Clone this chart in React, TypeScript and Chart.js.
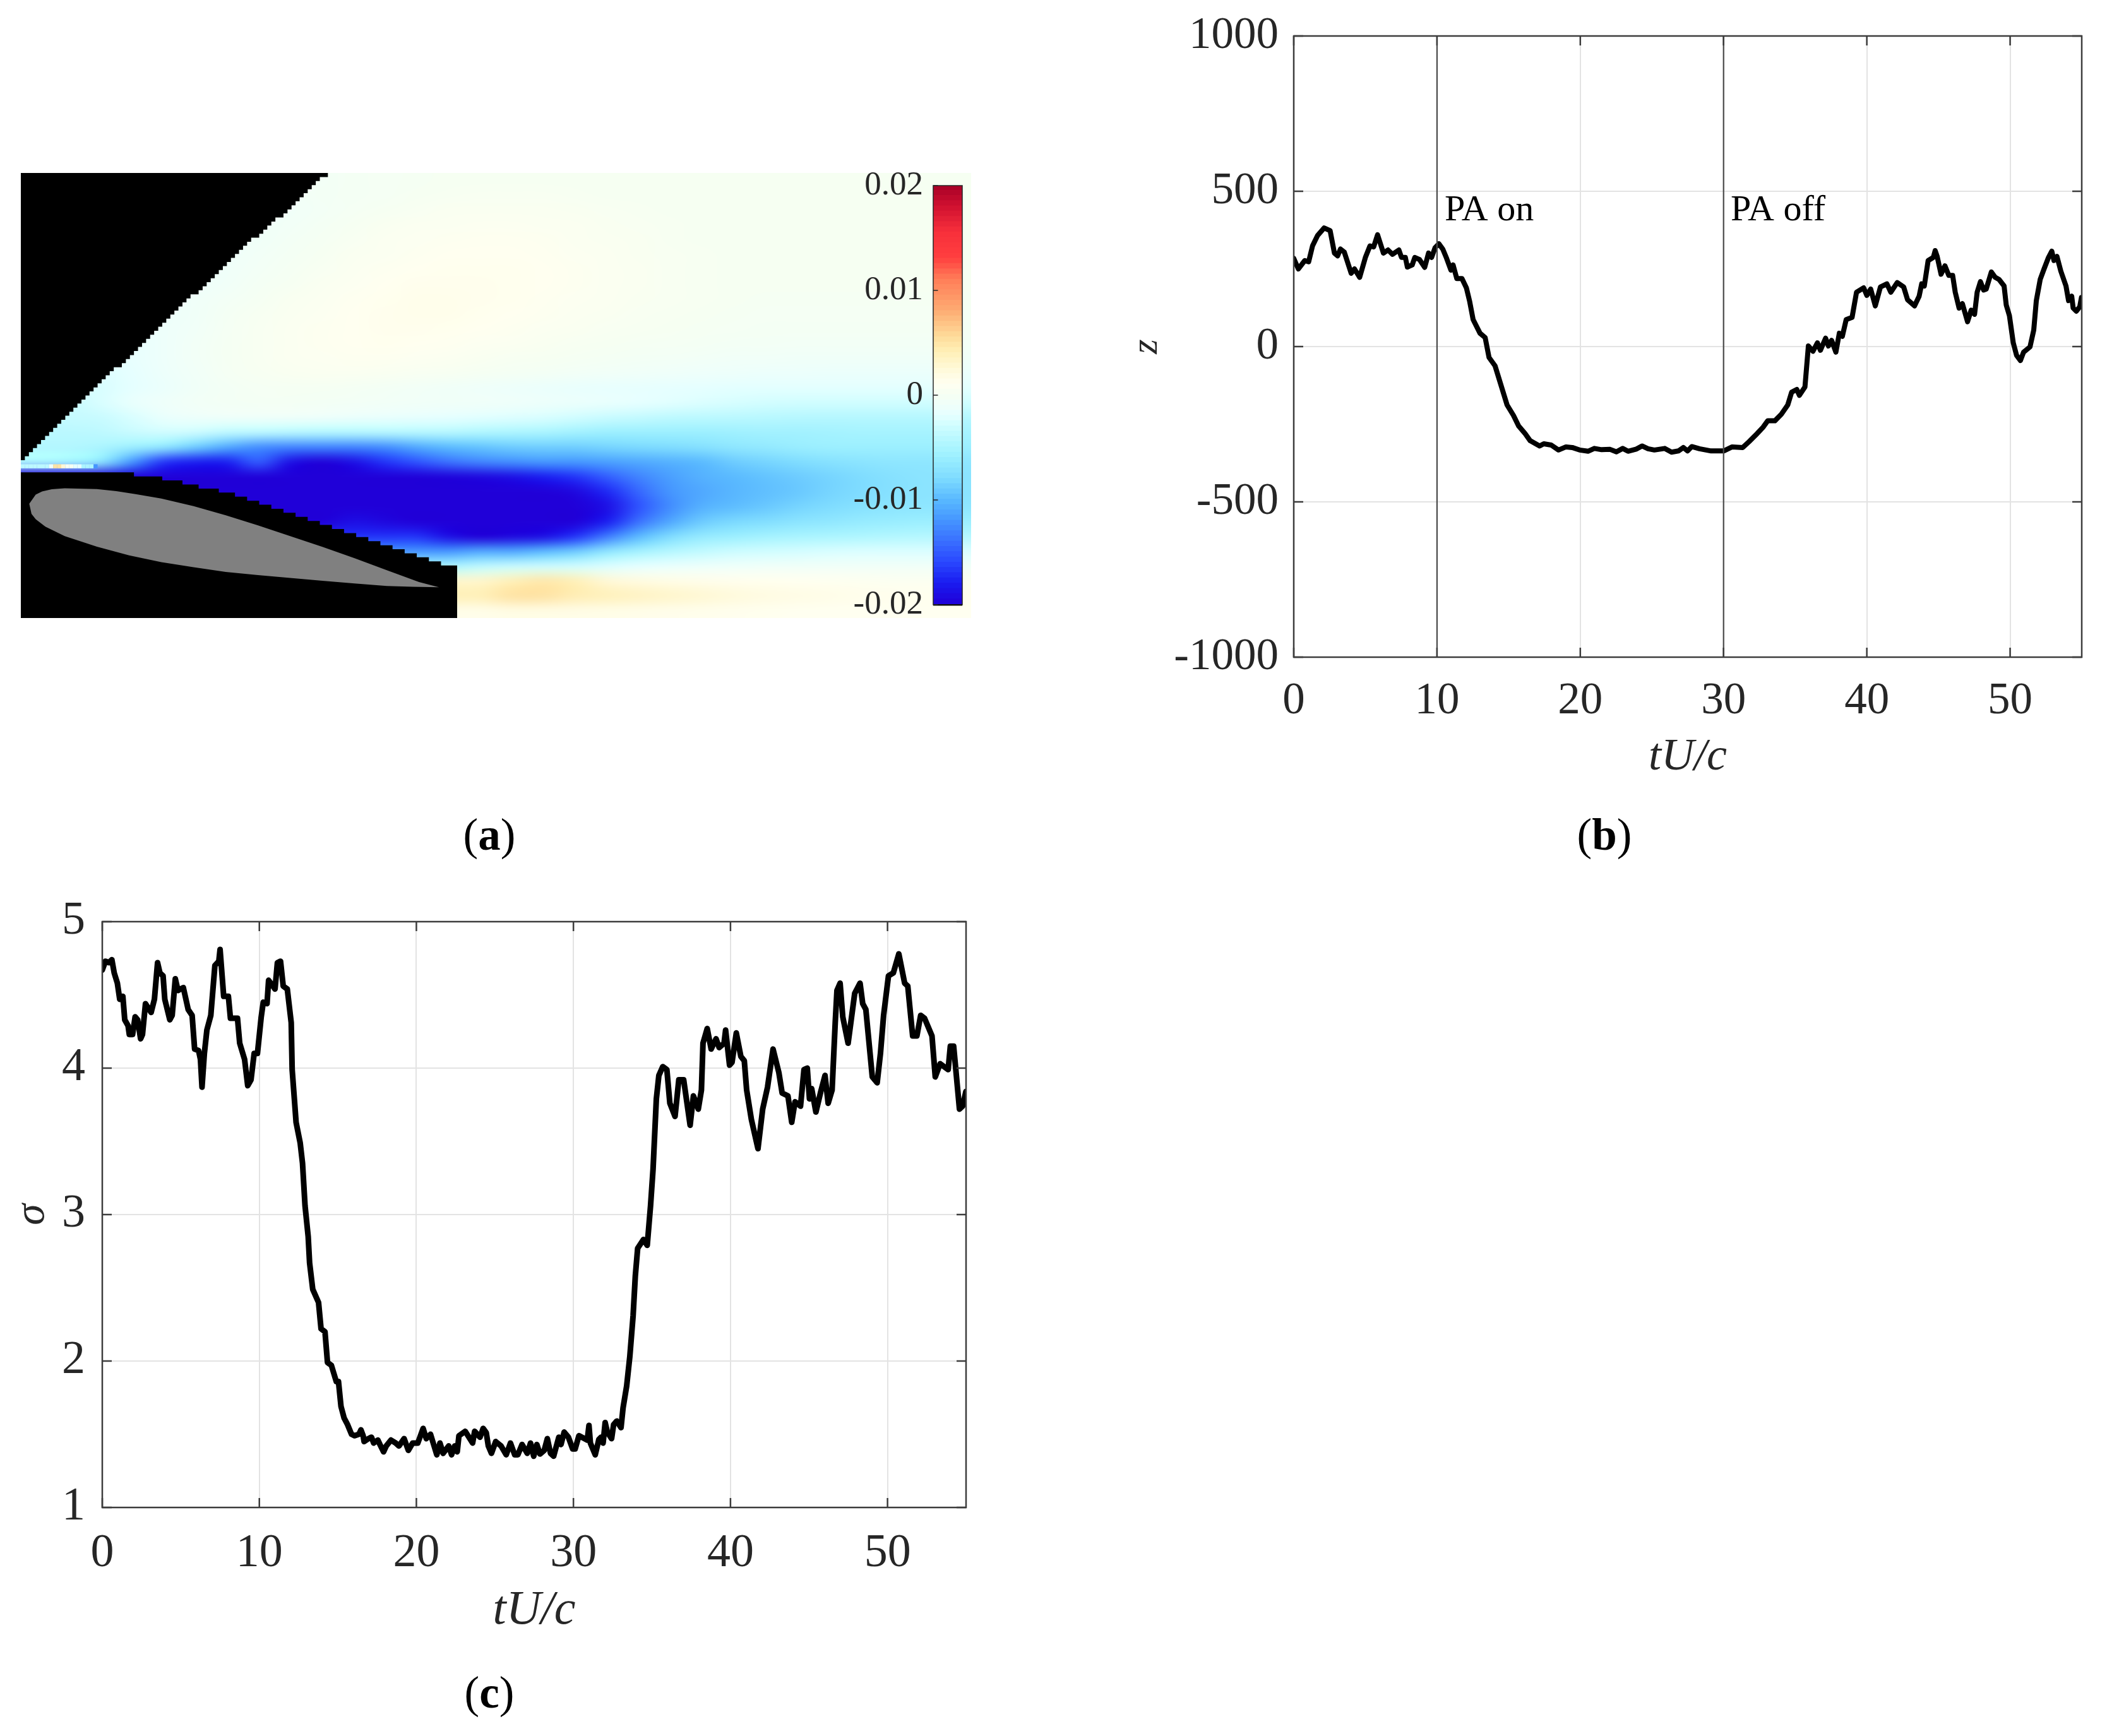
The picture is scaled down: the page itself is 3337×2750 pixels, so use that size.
import React, { useEffect, useRef } from "react";
import { Chart, registerables } from "chart.js";

Chart.register(...registerables);

const SERIF = "'Liberation Serif', serif";
const TICK_COLOR = "#262626";
const GRID_COLOR = "#e3e3e3";
const BOX_COLOR = "#3c3c3c";

// ---------- panel (b) ----------
const zTime = [0,.32,.77,1.04,1.31,1.67,2.12,2.54,2.84,3.06,3.26,3.53,4.01,4.24,4.6,5,5.32,5.58,5.85,6.26,6.58,6.89,7.34,7.52,7.79,7.93,8.27,8.45,8.78,9.14,9.41,9.62,9.86,10.13,10.4,10.67,10.97,11.12,11.38,11.74,12.05,12.28,12.52,13,13.36,13.63,14.05,14.89,15.34,15.7,16.13,16.5,17.16,17.45,17.97,18.48,19,19.44,19.95,20.54,20.98,21.49,22.08,22.52,22.96,23.33,23.92,24.31,24.73,25.17,25.9,26.37,26.86,27.19,27.49,27.78,28.32,29.13,30.01,30.6,31.34,31.78,32.22,32.77,33.08,33.58,34.03,34.48,34.75,35.11,35.29,35.68,35.92,36.24,36.55,36.76,37.12,37.32,37.54,37.84,38.08,38.29,38.56,38.97,39.28,39.78,40,40.27,40.59,40.95,41.4,41.67,42.12,42.57,42.84,43.33,43.65,43.83,44.01,44.28,44.64,44.77,44.91,45.18,45.45,45.72,45.99,46.17,46.44,46.67,47.03,47.28,47.52,47.7,47.93,48.15,48.33,48.69,48.96,49.23,49.58,49.73,49.95,50.22,50.45,50.72,50.94,51.39,51.65,51.83,52.1,52.37,52.68,52.91,53.06,53.27,53.54,53.9,54.08,54.3,54.4,54.62,54.86,54.98];
const zValues = [284,250,277,273,324,358,382,373,301,292,314,304,236,250,223,287,324,321,360,301,311,297,311,287,287,256,263,287,280,255,301,287,318,331,314,284,246,263,219,219,189,145,87,43,29,-35,-62,-188,-222,-256,-279,-303,-320,-313,-317,-333,-323,-325,-333,-337,-328,-332,-331,-339,-328,-337,-330,-320,-329,-333,-328,-340,-336,-325,-336,-322,-329,-336,-336,-323,-325,-306,-286,-259,-239,-239,-218,-188,-147,-138,-157,-130,2,-15,12,-12,27,2,20,-18,43,33,87,94,175,189,165,185,131,192,202,175,206,192,151,131,162,202,195,277,287,309,290,233,260,229,229,175,124,138,80,117,104,175,209,182,185,240,223,216,195,134,100,12,-28,-45,-18,-1,53,148,216,250,287,307,277,290,243,195,148,162,124,114,128,158];
const paLineTimes = [10, 30];
const paLabels = ["PA on", "PA off"];
const paLabelTimes = [10.53, 30.5];
const paLabelZ = [406, 406];
const zTicks = [-1000, -500, 0, 500, 1000];
const timeTicks = [0, 10, 20, 30, 40, 50];

// ---------- panel (c) ----------
const sigmaTime = [0,.2,.41,.61,.76,.96,1.11,1.31,1.43,1.64,1.72,1.93,2.09,2.25,2.44,2.56,2.75,3.11,3.32,3.52,3.67,3.87,3.98,4.3,4.45,4.65,4.82,5.16,5.47,5.72,5.88,6.13,6.25,6.35,6.5,6.66,6.91,7.17,7.42,7.5,7.73,8.03,8.16,8.61,8.75,9.06,9.26,9.47,9.67,9.88,10.12,10.25,10.49,10.59,11,11.15,11.35,11.52,11.78,12.03,12.09,12.23,12.34,12.6,12.75,12.91,13.11,13.2,13.4,13.77,13.93,14.18,14.34,14.59,14.9,15.04,15.2,15.4,15.6,15.87,16.07,16.34,16.47,16.61,16.67,16.94,17.14,17.28,17.55,17.68,17.91,18.08,18.38,18.68,18.89,19.22,19.49,19.76,20.09,20.43,20.63,20.9,21.3,21.5,21.7,22.06,22.24,22.44,22.6,22.71,23.11,23.58,23.71,24.05,24.25,24.45,24.58,24.78,25.05,25.39,25.72,25.99,26.26,26.46,26.73,27.06,27.27,27.47,27.67,27.87,28.14,28.34,28.54,28.74,29.07,29.21,29.41,29.68,29.95,30.11,30.35,30.88,30.99,31.08,31.39,31.62,31.76,31.89,32.02,32.16,32.43,32.56,32.76,33.03,33.16,33.39,33.59,33.8,33.94,34.09,34.46,34.7,34.91,35.07,35.28,35.44,35.69,35.95,36.14,36.47,36.71,37.02,37.43,37.64,37.95,38.15,38.25,38.52,38.77,39.08,39.28,39.59,39.69,39.94,40.1,40.37,40.66,40.88,41.03,41.33,41.75,42.05,42.36,42.71,43.08,43.29,43.66,43.9,44.11,44.46,44.68,44.89,45.03,45.17,45.44,45.75,46.02,46.22,46.47,46.67,46.78,46.98,47.15,47.49,47.91,48.25,48.42,48.62,49.03,49.34,49.55,49.75,50.06,50.37,50.72,51.09,51.29,51.6,51.87,52.11,52.36,52.83,53.04,53.35,53.86,54,54.21,54.58,54.78,54.99];
const sigmaValues = [4.67,4.73,4.72,4.74,4.65,4.58,4.47,4.49,4.33,4.29,4.23,4.23,4.35,4.33,4.2,4.23,4.44,4.38,4.47,4.72,4.65,4.63,4.47,4.33,4.36,4.61,4.53,4.55,4.4,4.36,4.13,4.12,4.06,3.87,4.1,4.26,4.36,4.7,4.73,4.81,4.49,4.49,4.34,4.34,4.17,4.06,3.88,3.92,4.1,4.1,4.35,4.45,4.44,4.6,4.54,4.72,4.73,4.56,4.54,4.31,3.99,3.79,3.63,3.49,3.35,3.06,2.85,2.67,2.49,2.4,2.22,2.2,1.99,1.97,1.86,1.86,1.69,1.61,1.57,1.5,1.49,1.5,1.53,1.49,1.45,1.47,1.48,1.44,1.46,1.43,1.38,1.42,1.46,1.44,1.42,1.47,1.39,1.44,1.44,1.54,1.47,1.5,1.36,1.44,1.37,1.42,1.36,1.42,1.38,1.49,1.52,1.44,1.52,1.48,1.54,1.51,1.42,1.37,1.45,1.42,1.36,1.44,1.36,1.36,1.43,1.37,1.44,1.35,1.43,1.365,1.39,1.47,1.37,1.35,1.48,1.43,1.515,1.48,1.4,1.4,1.49,1.46,1.56,1.44,1.36,1.465,1.48,1.44,1.58,1.515,1.47,1.566,1.59,1.545,1.68,1.83,2.03,2.31,2.58,2.77,2.83,2.79,3.06,3.31,3.79,3.95,4.01,3.99,3.76,3.67,3.92,3.92,3.61,3.81,3.72,3.85,4.17,4.27,4.13,4.2,4.14,4.17,4.26,4.02,4.04,4.24,4.08,4.05,3.85,3.65,3.45,3.72,3.87,4.13,3.97,3.83,3.81,3.63,3.77,3.74,3.99,4,3.79,3.86,3.7,3.84,3.95,3.76,3.85,4.31,4.53,4.58,4.35,4.17,4.51,4.58,4.44,4.4,3.94,3.9,4.1,4.36,4.63,4.65,4.78,4.58,4.56,4.22,4.22,4.36,4.34,4.22,3.94,4.03,3.99,4.15,4.15,3.72,3.74,3.84];
const sigmaTicks = [1, 2, 3, 4, 5];

// ---------- panel (a): field, in units of 0.001 on a 30 x 30 grid ----------
const heatRows = [
[-.5,-.5,-.5,-.5,-.5,-.5,-.5,-.5,-.5,-.5,-.3,-.2,-.1,0,0,0,0,0,0,0,0,0,0,0,0,0,0,0,0,0],
[-.6,-.6,-.6,-.6,-.6,-.6,-.6,-.6,-.6,-.4,-.3,-.2,0,.1,.2,.2,.2,.1,0,0,0,0,0,0,0,0,0,0,0,0],
[-.7,-.7,-.7,-.7,-.7,-.7,-.7,-.7,-.7,-.5,-.2,0,.2,.4,.4,.4,.4,.3,.2,.1,0,0,0,0,0,0,0,0,0,0],
[-.8,-.8,-.8,-.8,-.8,-.8,-.8,-.8,-.6,-.3,0,.3,.5,.6,.7,.7,.6,.5,.3,.2,.1,0,0,0,0,0,0,0,0,0],
[-1,-1,-1,-1,-1,-1,-1,-.8,-.4,-.1,.2,.5,.7,.8,.9,.9,.8,.6,.4,.3,.1,0,0,0,0,0,0,0,0,0],
[-1.1,-1.1,-1.1,-1.1,-1.1,-1.1,-1,-.6,-.3,0,.4,.6,.8,1,1,1,.9,.7,.5,.3,.2,.1,0,0,0,0,0,0,0,0],
[-1.2,-1.2,-1.2,-1.2,-1.2,-1.2,-.9,-.5,-.1,.2,.5,.8,1,1.1,1.1,1.1,1,.8,.6,.4,.2,.1,0,0,0,0,0,0,0,0],
[-1.3,-1.3,-1.3,-1.3,-1.3,-1.1,-.7,-.3,0,.4,.7,1,1.2,1.2,1.2,1.1,1,.8,.6,.4,.2,.1,0,0,0,0,0,0,0,0],
[-1.3,-1.3,-1.3,-1.3,-1.3,-.9,-.5,-.1,.3,.6,.9,1.1,1.3,1.3,1.2,1.1,.9,.7,.5,.3,.2,.1,0,-.1,-.1,-.1,-.1,-.1,-.1,-.1],
[-1.6,-1.6,-1.6,-1.6,-1.2,-.8,-.3,.1,.4,.7,1,1.2,1.3,1.3,1.1,1,.8,.6,.4,.2,.1,0,-.1,-.2,-.2,-.2,-.2,-.2,-.2,-.2],
[-1.6,-1.6,-1.6,-1.6,-1.1,-.7,-.2,.2,.5,.8,1,1.2,1.2,1.1,1,.8,.6,.4,.2,.1,0,-.1,-.2,-.3,-.3,-.3,-.3,-.3,-.3,-.3],
[-1.7,-1.7,-1.7,-1.7,-1.1,-.6,-.1,.2,.5,.8,1,1.1,1,.9,.7,.5,.3,.1,0,-.1,-.2,-.3,-.4,-.4,-.5,-.5,-.5,-.5,-.5,-.5],
[-2.2,-2.2,-2.2,-1.7,-1.1,-.6,-.1,.2,.5,.7,.8,.8,.7,.5,.3,.1,0,-.1,-.3,-.4,-.5,-.6,-.7,-.7,-.8,-.8,-.8,-.8,-.8,-.8],
[-2.4,-2.4,-2.4,-1.9,-1.2,-.7,-.2,.1,.3,.4,.4,.3,.2,.1,-.1,-.3,-.4,-.6,-.7,-.9,-1,-1.1,-1.2,-1.3,-1.3,-1.4,-1.4,-1.4,-1.4,-1.4],
[-2.8,-2.8,-2.6,-2,-1.4,-.8,-.4,-.2,-.1,-.1,-.3,-.4,-.6,-.8,-1,-1.2,-1.4,-1.6,-1.7,-1.8,-1.9,-2,-2.1,-2.1,-2.1,-2.1,-2.1,-2.1,-2.1,-2.1],
[-3.4,-3.4,-2.6,-1.6,-1,-.6,-.4,-.3,-.3,-.4,-.5,-.6,-.7,-.8,-.9,-1,-1.2,-1.4,-1.6,-1.9,-2.2,-2.5,-2.7,-2.9,-3,-3,-3,-3,-3,-3],
[-4,-3.6,-3.4,-2.6,-1.6,-1.2,-1,-1,-1,-1.1,-1.4,-1.6,-1.8,-2,-2.2,-2.4,-2.6,-3,-3.4,-3.7,-4,-4.1,-4.2,-4.3,-4.4,-4.5,-4.5,-4.5,-4.5,-4.5],
[-4.2,-4.2,-4,-3.4,-3,-3.2,-4,-4.2,-4.4,-4.6,-4.6,-4.5,-4.5,-4.5,-4.8,-5,-5.2,-5.6,-6,-6,-6,-6,-5.8,-5.6,-5.6,-5.5,-5.4,-5.4,-5.4,-5.4],
[-4.6,-4.6,-5,-6,-7,-9,-11,-12.5,-13,-13,-13,-12.5,-11,-10,-9.5,-9,-8.8,-8.8,-8.5,-8.2,-8,-7.6,-7,-6.6,-6.2,-6,-6,-6,-6,-6],
[-5,-5.5,-7,-12,-17,-18,-18,-15,-19,-20,-19,-17,-15.5,-14,-13,-12.5,-12,-12,-11.5,-11,-10.5,-10,-9,-8.5,-8,-7.5,-7.2,-7,-7,-7],
[-20,-20,-20,-20,-20,-20,-20,-20,-20,-20,-20,-20,-20,-19.8,-19.5,-19,-18,-17,-15,-13,-11.5,-10.5,-10,-9.5,-9,-8.5,-8,-7.5,-7.2,-7.2],
[-20,-20,-20,-20,-20,-20,-20,-20,-20,-20,-20,-20,-20,-20,-20,-20,-20,-19.5,-17.5,-14.5,-12,-11,-10.2,-9.7,-9.2,-8.5,-8,-7.5,-7.2,-7.2],
[-20,-20,-20,-20,-20,-20,-20,-20,-20,-20,-20,-20,-20,-20,-20,-20,-20,-20,-19,-15.5,-12.5,-10.5,-9.8,-9.2,-8.5,-8,-7.5,-7.1,-7,-7],
[-20,-20,-20,-20,-20,-20,-20,-20,-20,-20,-19,-19.5,-20,-20,-20,-20,-20,-20,-18,-14,-11,-9,-8.2,-7.8,-7.2,-6.8,-6.4,-6.2,-6,-6],
[-17,-17,-17,-17,-17,-17,-17,-17,-17,-17,-17,-17,-17,-19,-20,-19.5,-19,-17,-13.5,-10,-8,-6.5,-6,-5.5,-5.2,-5,-4.8,-4.6,-4.5,-4.5],
[-12,-12,-12,-12,-12,-12,-12,-12,-12,-12,-12,-12,-12,-12,-11,-11,-10,-9,-7,-5.5,-4.5,-3.8,-3.2,-3,-2.8,-2.6,-2.5,-2.5,-2.5,-2.5],
[-5,-5,-5,-5,-5,-5,-5,-5,-5,-5,-5,-5,-5,-5,-4,-3.5,-3.2,-3,-2.5,-2,-1.5,-1.2,-1,-.9,-.8,-.7,-.7,-.7,-.7,-.7],
[3,3,3,3,3,3,3,3,3,3,3,3,3,3,3,4,4.6,4,2.5,2,1.6,1.4,1.2,1.1,1,.9,.8,.7,.7,.7],
[4,4,4,4,4,4,4,4,4,4,4,4,4,4,4,5,5,4.2,3.8,3.4,3,2.6,2.2,1.9,1.7,1.5,1.3,1.2,1.1,1.1],
[1.5,1.5,1.5,1.5,1.5,1.5,1.5,1.5,1.5,1.5,1.5,1.5,1.5,1.5,1.5,1.8,1.8,1.7,1.6,1.5,1.4,1.3,1.2,1.1,1,1,1,1,1,1],
];
// thin row of cells right above the lower mask, near the leading edge (cell row 72)
const leadRowValues = [-4,-4,-4,-4,-4,-4,-4,-1,5,5,2.5,0,0,-2,-2,-5,-5,-5,-12];
const leadRowIndex = 72;

const cellCols = 235.2;
const cellRows = 110;
// upper mask: one row count per cell column
const upperMaskRows = [72,71,70,69,68,67,66,65,64,63,62,61,60,59,58,57,56,55,54,53,52,51,50,49,48,48,47,46,45,44,43,42,41,40,39,38,37,36,35,34,33,32,31,30,30,29,28,27,26,25,24,23,22,21,20,19,18,17,16,16,15,14,13,12,11,11,10,9,8,7,6,5,4,3,2,1,1,0];
// lower mask: staircase
const lowerMaskCols = [0,28,35,40,44,49,53,56,59,62,65,68,71,74,77,80,83,86,89,92,95,98,101,104,107,108];
const lowerMaskRows = [73,74,75,76,77,78,79,80,81,82,83,84,85,86,87,88,89,90,91,92,93,94,95,96,97,97];
// aerofoil outline
const foilCols = [2.09,3.68,5.27,7.66,10.85,18.83,23.61,28.39,34.77,42.74,50.71,58.69,66.66,74.63,82.6,90.57,98.55,103.49,96.95,90.57,82.6,74.63,66.66,58.69,50.71,42.74,34.77,26.8,18.83,10.85,6.07,3.68,2.64];
const foilRows = [81.77,79.48,78.7,78.18,77.92,78.13,78.65,79.38,80.47,82.35,84.59,87.09,89.74,92.4,95.21,98.18,101.1,102.4,102.29,102.09,101.46,100.78,100.1,99.38,98.6,97.45,96.2,94.53,92.35,89.74,87.4,85.57,84.27];

// colormap stops (units of 0.001)
const cmapValues = [-20,-18,-16,-14,-12,-10,-8,-6,-5,-4,-3,-2,-1,0,1,2,4,5.5,8,11,13,15.5,18,20];
const cmapColors = ["#2000d8","#1a1cf0","#2a48ff","#3a70ff","#4596ff","#5abaff","#7fdcff","#9cefff","#acf5ff","#bdf9ff","#d0fdff","#e5ffff","#effffa","#f6fff2","#fffff0","#fffbe0","#fff0b8","#fedc9a","#fdab72","#ff7d58","#ff3f3f","#f72f3b","#cf1030","#a50026"];
const colorbarTicks = [-0.02, -0.01, 0, 0.01, 0.02];

const captions = [
  { letter: "a", x: 775, y: 1322 },
  { letter: "b", x: 2541, y: 1322 },
  { letter: "c", x: 775, y: 2681 },
];

function hexRgb(h: string) {
  return [parseInt(h.slice(1, 3), 16), parseInt(h.slice(3, 5), 16), parseInt(h.slice(5, 7), 16)];
}
function colorOf(v: number) {
  const n = cmapValues.length;
  if (v <= cmapValues[0]) return hexRgb(cmapColors[0]);
  if (v >= cmapValues[n - 1]) return hexRgb(cmapColors[n - 1]);
  for (let i = 1; i < n; i++) {
    if (v <= cmapValues[i]) {
      const f = (v - cmapValues[i - 1]) / (cmapValues[i] - cmapValues[i - 1]);
      const a = hexRgb(cmapColors[i - 1]);
      const b = hexRgb(cmapColors[i]);
      return [0, 1, 2].map((k) => Math.round(a[k] + (b[k] - a[k]) * f));
    }
  }
  return [255, 255, 255];
}
const css = (c: number[]) => `rgb(${c[0]},${c[1]},${c[2]})`;

// heat field: cells placed through the scales and displayed with image smoothing
const heatPlugin = {
  id: "heat",
  beforeDatasetsDraw(chart: any) {
    const { ctx, scales } = chart;
    const rows = heatRows.length;
    const cols = heatRows[0].length;
    const off = document.createElement("canvas");
    off.width = cols;
    off.height = rows;
    const octx = off.getContext("2d")!;
    const img = octx.createImageData(cols, rows);
    heatRows.forEach((row, r) =>
      row.forEach((v, c) => {
        const rgb = colorOf(v);
        const i = (r * cols + c) * 4;
        img.data[i] = rgb[0];
        img.data[i + 1] = rgb[1];
        img.data[i + 2] = rgb[2];
        img.data[i + 3] = 255;
      })
    );
    octx.putImageData(img, 0, 0);
    const x0 = scales.x.getPixelForValue(0);
    const x1 = scales.x.getPixelForValue(cellCols);
    const y0 = scales.y.getPixelForValue(0);
    const y1 = scales.y.getPixelForValue(cellRows);
    ctx.save();
    ctx.imageSmoothingEnabled = true;
    ctx.imageSmoothingQuality = "high";
    ctx.drawImage(off, x0, y0, x1 - x0, y1 - y0);
    leadRowValues.forEach((v, c) => {
      ctx.fillStyle = css(colorOf(v));
      const a = scales.x.getPixelForValue(c);
      const b = scales.x.getPixelForValue(c + 1);
      const t = scales.y.getPixelForValue(leadRowIndex);
      const u = scales.y.getPixelForValue(leadRowIndex + 1);
      ctx.fillRect(a, t, b - a, u - t);
    });
    ctx.restore();
  },
  afterDatasetsDraw(chart: any) {
    const { ctx, scales } = chart;
    ctx.save();
    ctx.fillStyle = "#808080";
    ctx.beginPath();
    foilCols.forEach((c, i) => {
      const px = scales.x.getPixelForValue(c);
      const py = scales.y.getPixelForValue(foilRows[i]);
      if (i === 0) ctx.moveTo(px, py);
      else ctx.lineTo(px, py);
    });
    ctx.closePath();
    ctx.fill();
    ctx.restore();
  },
};

// MATLAB style box with inward ticks on all four sides
const boxPlugin = {
  id: "matlabBox",
  afterDraw(chart: any) {
    const { ctx, chartArea: a, scales } = chart;
    const len = 15;
    ctx.save();
    ctx.strokeStyle = BOX_COLOR;
    ctx.lineWidth = 2.5;
    ctx.strokeRect(a.left, a.top, a.right - a.left, a.bottom - a.top);
    ctx.beginPath();
    scales.x.ticks.forEach((t: any) => {
      const p = scales.x.getPixelForValue(t.value);
      ctx.moveTo(p, a.bottom);
      ctx.lineTo(p, a.bottom - len);
      ctx.moveTo(p, a.top);
      ctx.lineTo(p, a.top + len);
    });
    scales.y.ticks.forEach((t: any) => {
      const p = scales.y.getPixelForValue(t.value);
      ctx.moveTo(a.left, p);
      ctx.lineTo(a.left + len, p);
      ctx.moveTo(a.right, p);
      ctx.lineTo(a.right - len, p);
    });
    ctx.stroke();
    ctx.restore();
  },
};

const paPlugin = {
  id: "paLabels",
  afterDatasetsDraw(chart: any) {
    const { ctx, scales } = chart;
    ctx.save();
    ctx.fillStyle = "#000";
    ctx.font = `58px ${SERIF}`;
    ctx.textBaseline = "alphabetic";
    ctx.textAlign = "left";
    paLabels.forEach((s, i) => {
      ctx.fillText(s, scales.x.getPixelForValue(paLabelTimes[i]), scales.y.getPixelForValue(paLabelZ[i]));
    });
    ctx.restore();
  },
};

const colorbarPlugin = {
  id: "colorbarBox",
  afterDraw(chart: any) {
    const { ctx, chartArea: a, scales } = chart;
    ctx.save();
    ctx.strokeStyle = "#262626";
    ctx.lineWidth = 1.5;
    ctx.strokeRect(a.left, a.top, a.right - a.left, a.bottom - a.top);
    ctx.fillStyle = "#111";
    ctx.fillRect(a.left, a.bottom - 1, a.right - a.left, 2.5);
    ctx.beginPath();
    scales.y.ticks.forEach((t: any) => {
      const p = scales.y.getPixelForValue(t.value);
      ctx.moveTo(a.left, p);
      ctx.lineTo(a.left + 7.5, p);
    });
    ctx.stroke();
    ctx.restore();
  },
};

function lineOptions(p: {
  yMin: number; yMax: number; yTicks: number[]; yWidth: number; xHeight: number;
  top: number; right: number; yTitle: string; yTitleSize: number; yTitlePad: number; xPad: number;
  yPad: number; tickSize: number; xTitleSize: number;
}) {
  return {
    responsive: false,
    animation: false as const,
    devicePixelRatio: 1,
    layout: { autoPadding: false, padding: { left: 0, top: p.top, right: p.right, bottom: 0 } },
    plugins: { legend: { display: false }, tooltip: { enabled: false } },
    scales: {
      x: {
        type: "linear" as const,
        min: 0,
        max: 55,
        afterBuildTicks: (s: any) => { s.ticks = timeTicks.map((value) => ({ value })); },
        afterFit: (s: any) => { s.height = p.xHeight; },
        grid: { color: GRID_COLOR, lineWidth: 2, drawTicks: false },
        border: { display: false },
        ticks: {
          color: TICK_COLOR, font: { family: SERIF, size: p.tickSize }, padding: p.xPad,
          maxRotation: 0, autoSkip: false, callback: (v: any) => String(v),
        },
        title: {
          display: true,
          text: "tU/c",
          color: TICK_COLOR,
          padding: 0,
          font: { family: SERIF, size: p.xTitleSize, style: "italic" as const },
        },
      },
      y: {
        type: "linear" as const,
        min: p.yMin,
        max: p.yMax,
        afterBuildTicks: (s: any) => { s.ticks = p.yTicks.map((value) => ({ value })); },
        afterFit: (s: any) => { s.width = p.yWidth; },
        grid: { color: GRID_COLOR, lineWidth: 2, drawTicks: false },
        border: { display: false },
        ticks: {
          color: TICK_COLOR, font: { family: SERIF, size: p.tickSize }, padding: p.yPad,
          autoSkip: false, callback: (v: any) => String(v),
        },
        title: {
          display: true,
          text: p.yTitle,
          color: TICK_COLOR,
          padding: { top: p.yTitlePad, bottom: 0 },
          font: { family: SERIF, size: p.yTitleSize, style: "italic" as const },
        },
      },
    },
  };
}

const curve = (xs: number[], ys: number[], width: number) => ({
  data: xs.map((x, i) => ({ x, y: ys[i] })),
  showLine: true,
  borderColor: "#000",
  borderWidth: width,
  borderJoinStyle: "round" as const,
  borderCapStyle: "round" as const,
  pointRadius: 0,
  tension: 0,
});

export default function App() {
  const heatRef = useRef<HTMLCanvasElement>(null);
  const barRef = useRef<HTMLCanvasElement>(null);
  const bRef = useRef<HTMLCanvasElement>(null);
  const cRef = useRef<HTMLCanvasElement>(null);

  useEffect(() => {
    document.body.style.margin = "0";
    const charts: Chart[] = [];

    const hidden = (max: number, reverse: boolean) => ({
      type: "linear" as const, display: false, min: 0, max, reverse,
    });
    charts.push(new Chart(heatRef.current!, {
      type: "scatter",
      data: {
        datasets: [
          {
            data: upperMaskRows.map((y, x) => ({ x, y })),
            showLine: true, stepped: "after", pointRadius: 0, borderWidth: 0,
            borderColor: "#000", backgroundColor: "#000", fill: { value: 0 },
          },
          {
            data: lowerMaskCols.map((x, i) => ({ x, y: lowerMaskRows[i] })),
            showLine: true, stepped: "after", pointRadius: 0, borderWidth: 0,
            borderColor: "#000", backgroundColor: "#000", fill: { value: cellRows },
          },
        ],
      },
      options: {
        responsive: false, animation: false, devicePixelRatio: 1,
        layout: { autoPadding: false, padding: 0 },
        plugins: { legend: { display: false }, tooltip: { enabled: false } },
        scales: { x: hidden(cellCols, false), y: hidden(cellRows, true) },
      },
      plugins: [heatPlugin],
    } as any));

    const levels: { lo: number; hi: number }[] = [];
    for (let v = -20; v < 20; v += 0.5) levels.push({ lo: v, hi: v + 0.5 });
    charts.push(new Chart(barRef.current!, {
      type: "bar",
      data: {
        labels: [""],
        datasets: levels.map((l) => ({
          data: [[l.lo / 1000, (l.hi + 0.08) / 1000]],
          backgroundColor: css(colorOf(l.lo + 0.25)),
          borderWidth: 0,
          barPercentage: 1,
          categoryPercentage: 1,
        })),
      },
      options: {
        responsive: false, animation: false, devicePixelRatio: 1,
        layout: { autoPadding: false, padding: { left: 0, top: 94, right: 26, bottom: 52 } },
        plugins: { legend: { display: false }, tooltip: { enabled: false } },
        scales: {
          x: { type: "category", stacked: true, display: false },
          y: {
            type: "linear", min: -0.02, max: 0.02,
            afterBuildTicks: (s: any) => { s.ticks = colorbarTicks.map((value) => ({ value })); },
            afterFit: (s: any) => { s.width = 178; },
            grid: { display: false, drawTicks: false },
            border: { display: false },
            ticks: {
              color: TICK_COLOR, padding: 16, autoSkip: false,
              font: { family: SERIF, size: 53 },
              callback: (v: any) => String(v),
            },
          },
        },
      },
      plugins: [colorbarPlugin],
    } as any));

    charts.push(new Chart(bRef.current!, {
      type: "scatter",
      data: {
        datasets: [
          ...paLineTimes.map((t) => ({
            data: [{ x: t, y: -1000 }, { x: t, y: 1000 }],
            showLine: true, borderColor: "#4a4a4a", borderWidth: 2.2, pointRadius: 0,
          })),
          curve(zTime, zValues, 8),
        ],
      },
      options: lineOptions({
        yMin: -1000, yMax: 1000, yTicks: zTicks, yWidth: 269, xHeight: 202,
        top: 97, right: 40, yTitle: "z", yTitleSize: 60, yTitlePad: 0, xPad: 28,
        yPad: 24, tickSize: 71, xTitleSize: 72,
      }),
      plugins: [paPlugin, boxPlugin],
    } as any));

    charts.push(new Chart(cRef.current!, {
      type: "scatter",
      data: { datasets: [curve(sigmaTime, sigmaValues, 9)] },
      options: lineOptions({
        yMin: 1, yMax: 5, yTicks: sigmaTicks, yWidth: 162, xHeight: 210,
        top: 100, right: 70, yTitle: "σ", yTitleSize: 68, yTitlePad: 10, xPad: 29,
        yPad: 27, tickSize: 74, xTitleSize: 76,
      }),
      plugins: [boxPlugin],
    } as any));

    return () => charts.forEach((c) => c.destroy());
  }, []);

  const abs = (left: number, top: number): React.CSSProperties => ({ position: "absolute", left, top, display: "block" });

  return (
    <div style={{ position: "absolute", left: 0, top: 0, width: 3337, height: 2750, background: "#fff", overflow: "hidden" }}>
      <canvas ref={heatRef} width={1505} height={705} style={abs(33, 274)} />
      <canvas ref={barRef} width={250} height={810} style={abs(1300, 200)} />
      <canvas ref={bRef} width={1557} height={1283} style={abs(1780, -40)} />
      <canvas ref={cRef} width={1600} height={1238} style={abs(0, 1360)} />
      {captions.map((c) => (
        <div
          key={c.letter}
          style={{
            position: "absolute", left: c.x, top: c.y, transform: "translate(-50%,-50%)",
            fontFamily: SERIF, fontSize: 71, lineHeight: 1, color: "#000",
          }}
        >
          (<b>{c.letter}</b>)
        </div>
      ))}
    </div>
  );
}
